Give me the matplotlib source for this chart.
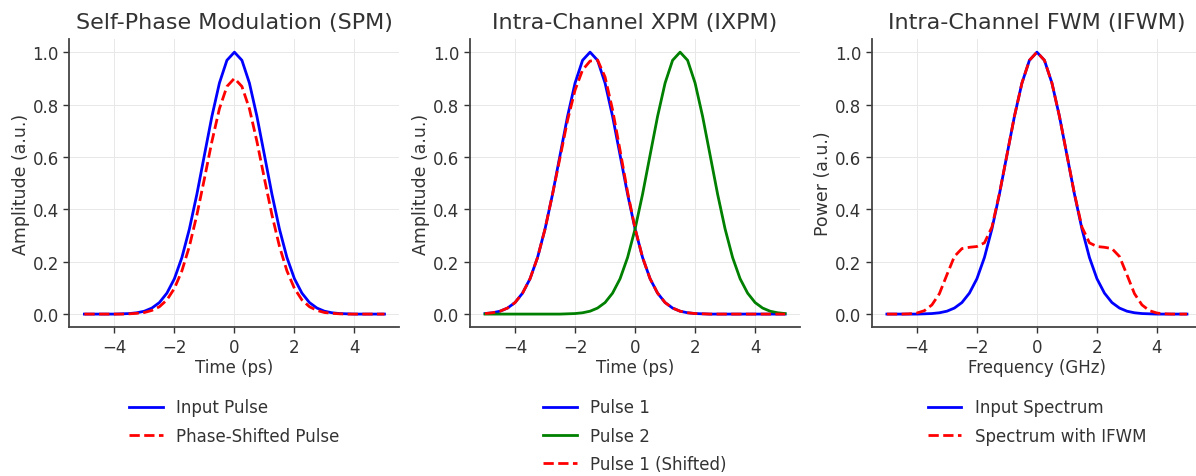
import numpy as np
import matplotlib.pyplot as plt

# time / frequency grid shared by all three panels
t = [-5.0, -4.75, -4.5, -4.25, -4.0, -3.75, -3.5, -3.25, -3.0, -2.75, -2.5,
     -2.25, -2.0, -1.75, -1.5, -1.25, -1.0, -0.75, -0.5, -0.25, 0.0,
     0.25, 0.5, 0.75, 1.0, 1.25, 1.5, 1.75, 2.0, 2.25, 2.5,
     2.75, 3.0, 3.25, 3.5, 3.75, 4.0, 4.25, 4.5, 4.75, 5.0]

# SPM panel
spm_input = [0.0, 0.0, 0.0, 0.0, 0.0, 0.001, 0.002, 0.005, 0.011, 0.023, 0.044,
             0.080, 0.135, 0.216, 0.325, 0.458, 0.607, 0.755, 0.882, 0.969, 1.0,
             0.969, 0.882, 0.755, 0.607, 0.458, 0.325, 0.216, 0.135, 0.080, 0.044,
             0.023, 0.011, 0.005, 0.002, 0.001, 0.0, 0.0, 0.0, 0.0, 0.0]
spm_shifted = [0.0, 0.0, 0.0, 0.0, 0.0, 0.0, 0.001, 0.003, 0.006, 0.014, 0.028,
               0.054, 0.098, 0.165, 0.259, 0.379, 0.517, 0.659, 0.784, 0.869, 0.9,
               0.869, 0.784, 0.659, 0.517, 0.379, 0.259, 0.165, 0.098, 0.054, 0.028,
               0.014, 0.006, 0.003, 0.001, 0.0, 0.0, 0.0, 0.0, 0.0, 0.0]

# IXPM panel
ixpm_p1 = [0.002, 0.005, 0.011, 0.023, 0.044, 0.080, 0.135, 0.216, 0.325, 0.458, 0.607,
           0.755, 0.882, 0.969, 1.0, 0.969, 0.882, 0.755, 0.607, 0.458, 0.325,
           0.216, 0.135, 0.080, 0.044, 0.023, 0.011, 0.005, 0.002, 0.001, 0.0,
           0.0, 0.0, 0.0, 0.0, 0.0, 0.0, 0.0, 0.0, 0.0, 0.0]
ixpm_p2 = [0.0, 0.0, 0.0, 0.0, 0.0, 0.0, 0.0, 0.0, 0.0, 0.0, 0.0,
           0.001, 0.002, 0.005, 0.011, 0.023, 0.044, 0.080, 0.135, 0.216, 0.325,
           0.458, 0.607, 0.755, 0.882, 0.969, 1.0, 0.969, 0.882, 0.755, 0.607,
           0.458, 0.325, 0.216, 0.135, 0.080, 0.044, 0.023, 0.011, 0.005, 0.002]
ixpm_p1_shifted = [0.002, 0.005, 0.011, 0.023, 0.044, 0.080, 0.135, 0.216, 0.325, 0.458, 0.598,
                   0.740, 0.855, 0.932, 0.966, 0.970, 0.905, 0.780, 0.625, 0.466, 0.327,
                   0.216, 0.135, 0.080, 0.044, 0.023, 0.011, 0.005, 0.002, 0.001, 0.0,
                   0.0, 0.0, 0.0, 0.0, 0.0, 0.0, 0.0, 0.0, 0.0, 0.0]

# IFWM panel
ifwm_input = [0.0, 0.0, 0.0, 0.0, 0.0, 0.001, 0.002, 0.005, 0.011, 0.023, 0.044,
              0.080, 0.135, 0.216, 0.325, 0.458, 0.607, 0.755, 0.882, 0.969, 1.0,
              0.969, 0.882, 0.755, 0.607, 0.458, 0.325, 0.216, 0.135, 0.080, 0.044,
              0.023, 0.011, 0.005, 0.002, 0.001, 0.0, 0.0, 0.0, 0.0, 0.0]
ifwm_out = [0.0, 0.0, 0.0, 0.001, 0.004, 0.013, 0.035, 0.078, 0.150, 0.220, 0.250,
            0.255, 0.258, 0.272, 0.332, 0.460, 0.607, 0.755, 0.882, 0.969, 1.0,
            0.969, 0.882, 0.755, 0.607, 0.460, 0.332, 0.272, 0.258, 0.255, 0.250,
            0.220, 0.150, 0.078, 0.035, 0.013, 0.004, 0.001, 0.0, 0.0, 0.0]

titles = ['Self-Phase Modulation (SPM)', 'Intra-Channel XPM (IXPM)', 'Intra-Channel FWM (IFWM)']
xlabels = ['Time (ps)', 'Time (ps)', 'Frequency (GHz)']
ylabels = ['Amplitude (a.u.)', 'Amplitude (a.u.)', 'Power (a.u.)']

plt.rcParams['font.family'] = 'DejaVu Sans'
fig = plt.figure(figsize=(11.96, 4.77), dpi=100)
lefts = [0.058, 0.393, 0.729]
axes = [fig.add_axes([l, 0.312, 0.276, 0.604]) for l in lefts]

ax = axes[0]
ax.plot(t, spm_input, color='blue', lw=2, label='Input Pulse')
ax.plot(t, spm_shifted, color='red', lw=2, ls='--', label='Phase-Shifted Pulse')

ax = axes[1]
ax.plot(t, ixpm_p1, color='blue', lw=2, label='Pulse 1')
ax.plot(t, ixpm_p2, color='green', lw=2, label='Pulse 2')
ax.plot(t, ixpm_p1_shifted, color='red', lw=2, ls='--', label='Pulse 1 (Shifted)')

ax = axes[2]
ax.plot(t, ifwm_input, color='blue', lw=2, label='Input Spectrum')
ax.plot(t, ifwm_out, color='red', lw=2, ls='--', label='Spectrum with IFWM')

for ax, ttl, xl, yl in zip(axes, titles, xlabels, ylabels):
    ax.set_xlim(-5.5, 5.5)
    ax.set_ylim(-0.05, 1.05)
    ax.set_xticks([-4, -2, 0, 2, 4])
    ax.set_yticks([0.0, 0.2, 0.4, 0.6, 0.8, 1.0])
    ax.set_title(ttl, fontsize=16, color='#333333', pad=8)
    ax.set_xlabel(xl, fontsize=12, color='#333333', labelpad=2)
    ax.set_ylabel(yl, fontsize=12.5, color='#333333', labelpad=2)
    ax.grid(True, color='#e8e8e8', lw=0.7)
    ax.set_axisbelow(True)
    for s in ['top', 'right']:
        ax.spines[s].set_visible(False)
    for s in ['left', 'bottom']:
        ax.spines[s].set_color('#444444')
        ax.spines[s].set_linewidth(1.3)
    ax.tick_params(colors='#333333', labelsize=12, width=1.0, length=4)
    ax.legend(loc='upper center', bbox_to_anchor=(0.5, -0.195), frameon=False,
              fontsize=12, handlelength=2.0, labelspacing=0.62, labelcolor='#333333')

fig.savefig('out.png', dpi=100)
